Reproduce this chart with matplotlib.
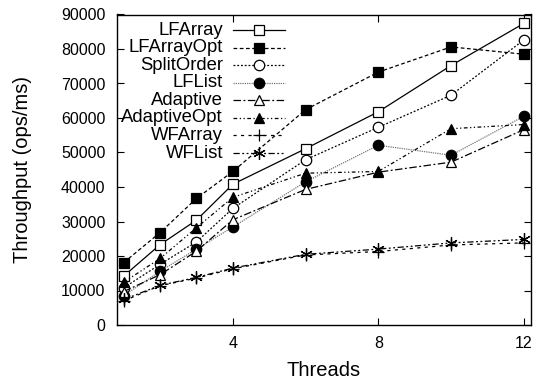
import matplotlib
matplotlib.use('Agg')
import matplotlib.pyplot as plt

# thread counts and throughput (ops/ms)
threads = [1, 2, 3, 4, 6, 8, 10, 12]
lfarray = [14200, 23300, 30400, 40800, 51100, 61800, 75200, 87400]
lfarray_opt = [18100, 26800, 36700, 44500, 62400, 73300, 80600, 78500]
split_order = [10800, 17600, 24100, 33800, 47900, 57300, 66600, 82600]
lflist = [8500, 15600, 22000, 28400, 41500, 52100, 49200, 60500]
adaptive = [9700, 14600, 21400, 30500, 39300, 44300, 47200, 56600]
adaptive_opt = [12400, 19300, 28200, 37000, 44000, 44500, 56900, 58100]
wfarray = [7000, 11400, 13600, 16300, 20300, 21300, 23200, 23800]
wflist = [7400, 11500, 13800, 16500, 20500, 22000, 23800, 24800]

labels = ['LFArray', 'LFArrayOpt', 'SplitOrder', 'LFList',
          'Adaptive', 'AdaptiveOpt', 'WFArray', 'WFList']
series = [lfarray, lfarray_opt, split_order, lflist,
          adaptive, adaptive_opt, wfarray, wflist]

# gnuplot-ish monochrome styles: (linestyle, marker, filled, color, size)
styles = [
    ('-', 's', False, 'black', 7.5),
    ((0, (3, 2)), 's', True, 'black', 7.5),
    ((0, (1.5, 1.5)), 'o', False, 'black', 7.5),
    ((0, (1, 0.8)), 'o', True, '#777777', 7.5),
    ((0, (6, 2, 1.5, 2)), '^', False, 'black', 6.5),
    ((0, (3, 2, 1, 2, 1, 2)), '^', True, 'black', 6.5),
    ((0, (2.5, 3.5)), '+', False, 'black', 9),
    ((0, (5, 2, 1.5, 2, 1.5, 2)), (6, 2, 0), False, 'black', 9),
]

plt.rcParams['font.family'] = ['Liberation Sans', 'DejaVu Sans']
plt.rcParams['font.size'] = 11.5

fig = plt.figure(figsize=(5.39, 3.81), dpi=100)
fig.subplots_adjust(left=116.5/539, right=531/539, top=1-14.5/381, bottom=1-325/381)
ax = fig.add_subplot(111)

def draw(x, y, st, transform=None):
    ls, mk, filled, col, ms = st
    kw = dict(linestyle=ls, color=col, linewidth=0.9,
              marker=mk, markersize=ms, markeredgewidth=0.9,
              markeredgecolor='black',
              markerfacecolor='black' if filled else 'white')
    if mk == '+' or isinstance(mk, tuple):
        kw['markerfacecolor'] = 'none'
    if transform is not None:
        kw['transform'] = transform
        kw['clip_on'] = False
    ax.plot(x, y, **kw)

for ys, st in zip(series, styles):
    draw(threads, ys, st)

# right-aligned legend like gnuplot's key
for i, (lab, st) in enumerate(zip(labels, styles)):
    yk = 0.950 - i * 0.0566
    ax.text(0.257, yk, lab, transform=ax.transAxes, ha='right', va='center',
            fontsize=13.3)
    ls, mk, filled, col, ms = st
    ax.plot([0.281, 0.406], [yk, yk], transform=ax.transAxes,
            linestyle=ls, color=col, linewidth=0.9)
    draw([0.344], [yk], (ls, mk, filled, col, ms), transform=ax.transAxes)

ax.set_xlim(0.8, 12.2)
ax.set_ylim(0, 90000)
ax.set_xticks([4, 8, 12])
ax.set_yticks(range(0, 90001, 10000))
ax.tick_params(direction='in', top=True, right=True, length=5, width=0.8, pad=8)
for s in ax.spines.values():
    s.set_linewidth(1.0)
ax.set_xlabel('Threads', fontsize=14.5, va='center')
ax.set_ylabel('Throughput (ops/ms)', fontsize=14.5, va='center')
ax.xaxis.set_label_coords(0.5, -0.148)
ax.yaxis.set_label_coords(-0.2256, 0.5)

fig.savefig('out.png', dpi=100)
